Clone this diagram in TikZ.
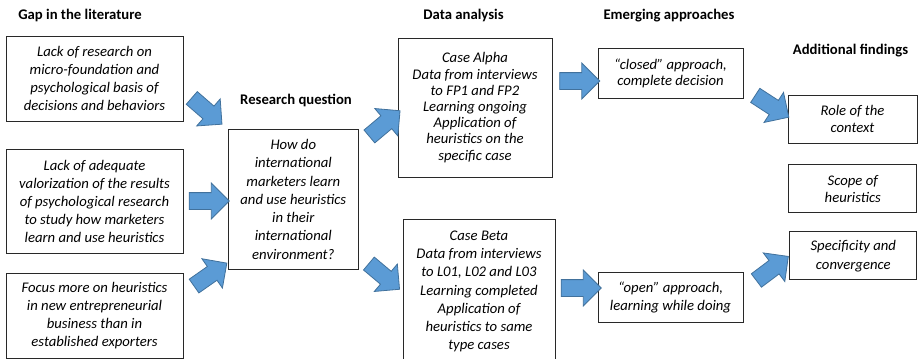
\documentclass[tikz,border=0pt]{standalone}
\usepackage{fontspec}
\setmainfont{Carlito}[ItalicFont=Carlito Italic, BoldFont=Carlito Bold, BoldItalicFont=Carlito Bold Italic]
\usetikzlibrary{shapes.arrows}
\definecolor{arrowfill}{RGB}{91,155,213}
\definecolor{arrowedge}{RGB}{65,113,156}
\definecolor{boxedge}{RGB}{40,40,40}
\tikzset{
  box/.style={draw=boxedge, line width=1pt, align=center, inner sep=0pt,
    font=\fontsize{14.7}{18}\selectfont\itshape},
  heading/.style={font=\fontsize{14.7}{18}\selectfont\bfseries, inner sep=0pt},
  barrow/.style={single arrow, draw=arrowedge, fill=arrowfill, line width=0.8pt,
    minimum height=40pt, minimum width=35pt, inner xsep=0pt, inner ysep=8pt,
    single arrow head extend=9.5pt, single arrow tip angle=90}
}
\begin{document}
\begin{tikzpicture}[x=1pt,y=-1pt]
\useasboundingbox (0,0) rectangle (919,359);
\clip (0,0) rectangle (919,359);
% headings
\node[heading] (h1) at (80,15) {Gap in the literature};
\node[heading] (h2) at (296,100) {Research question};
\node[heading] (h3) at (463.5,15.5) {Data analysis};
\node[heading] (h4) at (669,15.5) {Emerging approaches};
\node[heading] (h5) at (850.5,50.7) {Additional findings};
% boxes
\node[box, minimum width=177pt, minimum height=85pt] (g1) at (94.5,78.5)
  {Lack of research on\\micro-foundation and\\psychological basis of\\decisions and behaviors};
\node[box, minimum width=177pt, minimum height=104pt] (g2) at (94.5,201)
  {Lack of adequate\\valorization of the results\\of psychological research\\to study how marketers\\learn and use heuristics};
\node[box, minimum width=177pt, minimum height=85pt] (g3) at (94.5,316)
  {Focus more on heuristics\\in new entrepreneurial\\business than in\\established exporters};
\node[box, minimum width=130pt, minimum height=140pt, font=\fontsize{14.7}{18.3}\selectfont\itshape] (rq) at (293.3,199.3)
  {How do\\international\\marketers learn\\and use heuristics\\in their\\international\\environment?};
\node[box, minimum width=154pt, minimum height=139pt, font=\fontsize{14.7}{16.2}\selectfont\itshape] (alpha) at (475,107.5)
  {Case Alpha\\Data from interviews\\to FP1 and FP2\\Learning ongoing\\Application of\\heuristics on the\\specific case};
\node[box, minimum width=152pt, minimum height=145pt, font=\fontsize{14.7}{18.3}\selectfont\itshape] (beta) at (479,291.5)
  {Case Beta\\Data from interviews\\to L01, L02 and L03\\Learning completed\\Application of\\heuristics to same\\type cases};
\node[box, minimum width=145pt, minimum height=50pt, font=\fontsize{14.7}{16.3}\selectfont\itshape] (closed) at (670.5,73.3)
  {“closed” approach,\\complete decision};
\node[box, minimum width=145pt, minimum height=50pt, font=\fontsize{14.7}{17.4}\selectfont\itshape] (open) at (670.5,297.3)
  {“open” approach,\\learning while doing};
\node[box, minimum width=129pt, minimum height=48pt, font=\fontsize{14.7}{17.3}\selectfont\itshape] (role) at (852.5,119)
  {Role of the\\context};
\node[box, minimum width=128pt, minimum height=48pt, font=\fontsize{14.7}{16.6}\selectfont\itshape] (scope) at (852.8,188.8)
  {Scope of\\heuristics};
\node[box, minimum width=127pt, minimum height=48pt, font=\fontsize{14.7}{19}\selectfont\itshape] (spec) at (853.3,255.8)
  {Specificity and\\convergence};
% block arrows
\node[barrow, rotate=-41] (a1) at (203.7,108.3) {};
\node[barrow] (a2) at (205,201) {};
\node[barrow, rotate=35] (a3) at (207,277) {};
\node[barrow, rotate=40] (a4) at (381.5,126.3) {};
\node[barrow, rotate=-40] (a5) at (381,273.7) {};
\node[barrow] (a6) at (575.5,81) {};
\node[barrow] (a7) at (577,288) {};
\node[barrow, rotate=-33] (a8) at (768.5,104) {};
\node[barrow, rotate=37] (a9) at (769,271) {};
\end{tikzpicture}
\end{document}
